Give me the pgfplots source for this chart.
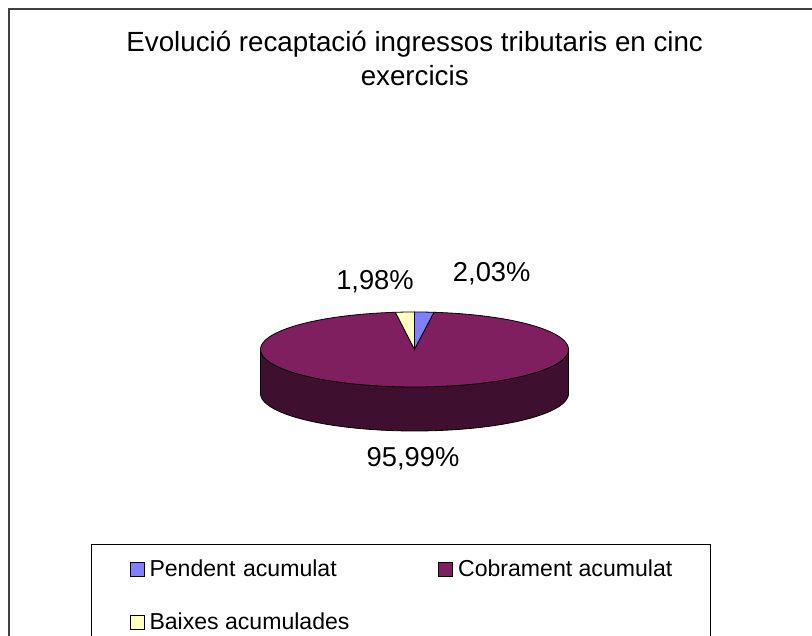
\documentclass[border=0pt]{standalone}
\usepackage{fontspec}
\setmainfont{Liberation Sans}
\usepackage{pgfplots}
\usepackage{pgfplotstable}
\pgfplotsset{compat=1.18}

\definecolor{pend}{HTML}{8080FF}
\definecolor{cobr}{HTML}{7F1F5F}
\definecolor{cobrside}{HTML}{3F0F2F}
\definecolor{baix}{HTML}{FFFFC0}

% shares of the total, in %
\pgfplotstableread{
part      value
Pendent   2.03
Cobrament 95.99
Baixes    1.98
}\pietable

\begin{document}
\begin{tikzpicture}
\pgfplotstablegetelem{0}{value}\of\pietable \let\vPend\pgfplotsretval
\pgfplotstablegetelem{1}{value}\of\pietable \let\vCobr\pgfplotsretval
\pgfplotstablegetelem{2}{value}\of\pietable \let\vBaix\pgfplotsretval
\pgfmathsetmacro\aA{3.6*\vPend}
\pgfmathsetmacro\aB{\aA+3.6*\vCobr}
% pie centre, radii and depth (axis units = px)
\def\pcx{414.5}\def\pcy{285.5}\def\pra{154}\def\prb{37.5}\def\pdep{44}
\begin{axis}[
    name=ax,
    width=609pt, height=476.25pt, scale only axis,
    xmin=0, xmax=812, ymin=0, ymax=635,
    hide axis, clip=false,
    legend columns=2,
    legend cell align=left,
    legend image code/.code={\draw[#1, line width=0.5pt] (0pt,-5.25pt) rectangle (10.5pt,5.25pt);},
    legend style={at={(0.11207,0.14331)}, anchor=north west,
        draw=black, line width=0.75pt, fill=white,
        inner xsep=28.5pt, inner ysep=9.4pt, row sep=22pt,
        font=\fontsize{17.3}{20}\selectfont,
        nodes={inner xsep=0pt},
        /tikz/every odd column/.append style={column sep=4pt},
        /tikz/every even column/.append style={column sep=0pt}},
]
% side wall
\addplot[forget plot, fill=cobrside, draw=black, line width=0.6pt,
    domain=90:270, samples=90, variable=\t]
    ({\pcx+\pra*sin(\t)},{\pcy-\pdep+\prb*cos(\t)})
    -- (axis cs:\pcx-\pra,\pcy) -- (axis cs:\pcx+\pra,\pcy) -- cycle;
% top slices
\addplot[fill=pend, draw=black, line width=0.6pt,
    domain=0:\aA, samples=10, variable=\t]
    ({\pcx+\pra*sin(\t)},{\pcy+\prb*cos(\t)}) -- (axis cs:\pcx,\pcy) -- cycle;
\addlegendentry[text width=216.5pt]{Pendent acumulat}
\addplot[fill=cobr, draw=black, line width=0.6pt,
    domain=\aA:\aB, samples=180, variable=\t]
    ({\pcx+\pra*sin(\t)},{\pcy+\prb*cos(\t)}) -- (axis cs:\pcx,\pcy) -- cycle;
\addlegendentry{Cobrament acumulat}
\addplot[fill=baix, draw=black, line width=0.6pt,
    domain=\aB:360, samples=10, variable=\t]
    ({\pcx+\pra*sin(\t)},{\pcy+\prb*cos(\t)}) -- (axis cs:\pcx,\pcy) -- cycle;
\addlegendentry{Baixes acumulades}

% data labels
\node[anchor=base, font=\fontsize{20.5}{24}\selectfont] at (axis cs:491.7,353.3) {2,03\%};
\node[anchor=base, font=\fontsize{20.5}{24}\selectfont] at (axis cs:375,345.7) {1,98\%};
\node[anchor=base, font=\fontsize{20.5}{24}\selectfont] at (axis cs:413,168.3) {95,99\%};
% title
\node[anchor=base, font=\fontsize{20.8}{25}\selectfont] at (axis cs:414.7,583.3)
    {Evolució recaptació ingressos tributaris en cinc};
\node[anchor=base, font=\fontsize{20.8}{25}\selectfont] at (axis cs:414.7,549) {exercicis};
% chart area frame
\draw[black!75, line width=1.2pt] (axis cs:9,-20) -- (axis cs:9,626) -- (axis cs:830,626);
\end{axis}
\pgfresetboundingbox
\path[use as bounding box] (ax.south west) rectangle (ax.north east);
\end{tikzpicture}
\end{document}
